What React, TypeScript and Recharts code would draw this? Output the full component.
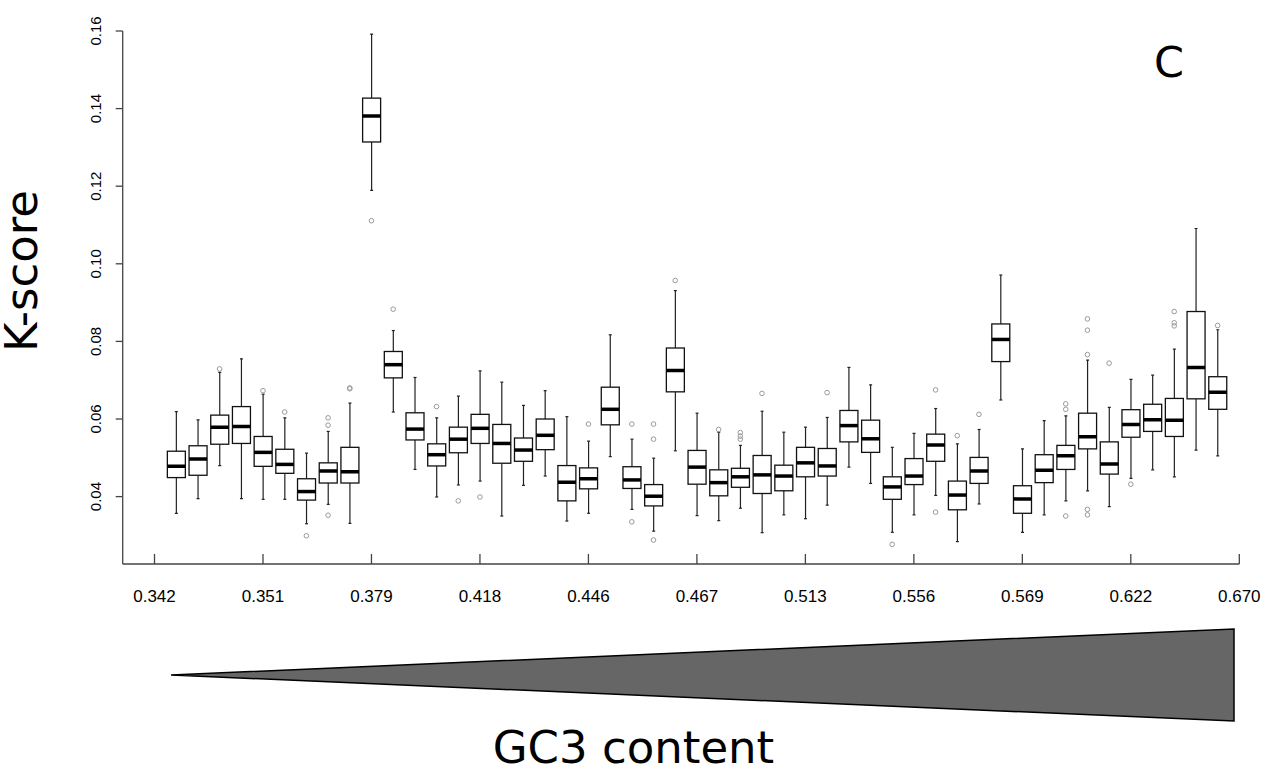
import React from 'react';
import { ComposedChart, Bar, Scatter, XAxis, YAxis } from 'recharts';

// Box positions (1..49) along GC3-ordered axis
const positions = [
  1, 2, 3, 4, 5, 6, 7, 8, 9, 10, 11, 12, 13, 14, 15, 16, 17, 18, 19, 20, 21, 22, 23, 24, 25,
  26, 27, 28, 29, 30, 31, 32, 33, 34, 35, 36, 37, 38, 39, 40, 41, 42, 43, 44, 45, 46, 47, 48, 49,
];
const whiskerLow = [
  0.0357, 0.0395, 0.048, 0.0395, 0.0393, 0.0393, 0.033, 0.038, 0.0331, 0.1189, 0.0618, 0.047, 0.0399,
  0.043, 0.044, 0.035, 0.0429, 0.0453, 0.0337, 0.0357, 0.0503, 0.0367, 0.0311, 0.0518, 0.0351, 0.0338,
  0.037, 0.0307, 0.0353, 0.0343, 0.0378, 0.0476, 0.0434, 0.0308, 0.0353, 0.0403, 0.0284, 0.0381, 0.0649,
  0.0308, 0.0353, 0.0389, 0.0415, 0.0374, 0.0447, 0.0469, 0.0451, 0.052, 0.0505,
];
const quartile1 = [
  0.0449, 0.0455, 0.0535, 0.0537, 0.0478, 0.046, 0.0391, 0.0435, 0.0435, 0.1314, 0.0706, 0.0546, 0.0479,
  0.0513, 0.0537, 0.0486, 0.0491, 0.0521, 0.0389, 0.042, 0.0585, 0.0421, 0.0376, 0.067, 0.0432, 0.0402,
  0.0424, 0.0408, 0.0415, 0.0451, 0.0453, 0.0541, 0.0514, 0.0393, 0.0431, 0.0491, 0.0366, 0.0434, 0.0748,
  0.0357, 0.0436, 0.047, 0.0523, 0.0458, 0.0553, 0.0568, 0.0555, 0.0652, 0.0625,
];
const medians = [
  0.0478, 0.0497, 0.0579, 0.0581, 0.0514, 0.0483, 0.0413, 0.0466, 0.0464, 0.1381, 0.074, 0.0574, 0.0508,
  0.0548, 0.0576, 0.0537, 0.052, 0.0558, 0.0437, 0.0446, 0.0625, 0.0443, 0.0401, 0.0725, 0.0476, 0.0436,
  0.0451, 0.0456, 0.0453, 0.0487, 0.0479, 0.0583, 0.0549, 0.0425, 0.0453, 0.0533, 0.0404, 0.0466, 0.0805,
  0.0394, 0.0468, 0.0505, 0.0554, 0.0484, 0.0586, 0.0598, 0.0597, 0.0733, 0.0669,
];
const quartile3 = [
  0.0517, 0.0531, 0.061, 0.0632, 0.0555, 0.0522, 0.0446, 0.0487, 0.0527, 0.1427, 0.0774, 0.0616, 0.0536,
  0.0579, 0.0612, 0.0586, 0.0551, 0.06, 0.048, 0.0474, 0.0682, 0.0477, 0.0431, 0.0783, 0.0519, 0.0469,
  0.0473, 0.0506, 0.0481, 0.0527, 0.0524, 0.0622, 0.0597, 0.0451, 0.0498, 0.0561, 0.044, 0.0501, 0.0845,
  0.0428, 0.0508, 0.0532, 0.0615, 0.0541, 0.0624, 0.0638, 0.0653, 0.0877, 0.0709,
];
const whiskerHigh = [
  0.0619, 0.0598, 0.072, 0.0755, 0.0664, 0.0603, 0.0512, 0.0568, 0.0641, 0.1592, 0.0828, 0.0707, 0.0603,
  0.0659, 0.0724, 0.0695, 0.0635, 0.0673, 0.0606, 0.0543, 0.0817, 0.0548, 0.0499, 0.0931, 0.0615, 0.0566,
  0.0532, 0.062, 0.0566, 0.0579, 0.0604, 0.0733, 0.0688, 0.0527, 0.0563, 0.0627, 0.0536, 0.0573, 0.0971,
  0.0523, 0.0596, 0.0608, 0.0752, 0.063, 0.0702, 0.0713, 0.078, 0.1091, 0.083,
];

// Outliers
const outlierPos = [
  3, 5, 6, 7, 8, 8, 8, 9, 9, 10, 11, 13, 14, 15, 20, 22, 22, 23, 23, 23, 24, 26, 27, 27, 27, 28, 31,
  34, 36, 36, 37, 38, 42, 42, 42, 43, 43, 43, 43, 43, 44, 45, 47, 47, 47, 49,
];
const outlierVal = [
  0.0729, 0.0673, 0.0618, 0.0299, 0.0603, 0.0584, 0.0352, 0.0678, 0.068, 0.1111, 0.0883, 0.0632, 0.0389,
  0.0399, 0.0587, 0.0587, 0.0335, 0.0587, 0.0548, 0.0288, 0.0957, 0.0573, 0.0565, 0.0556, 0.0548, 0.0666,
  0.0668, 0.0277, 0.0675, 0.036, 0.0557, 0.0612, 0.0639, 0.0625, 0.035, 0.0858, 0.0829, 0.0766, 0.0367,
  0.0353, 0.0744, 0.0432, 0.0877, 0.0848, 0.084, 0.0841,
];

const xTickPositions = [0, 5, 10, 15, 20, 25, 30, 35, 40, 45, 50];
const xTickLabels = ['0.342', '0.351', '0.379', '0.418', '0.446', '0.467', '0.513', '0.556', '0.569', '0.622', '0.670'];
const yTicks = [0.04, 0.06, 0.08, 0.1, 0.12, 0.14, 0.16];

const boxData = positions.map((p, i) => ({
  x: p,
  range: [whiskerLow[i], whiskerHigh[i]],
  lo: whiskerLow[i],
  q1: quartile1[i],
  med: medians[i],
  q3: quartile3[i],
  hi: whiskerHigh[i],
}));
const outlierData = outlierPos.map((p, i) => ({ x: p, y: outlierVal[i] }));

const AXIS_COLOR = '#444';
const SANS = "'Liberation Sans', Arial, Helvetica, sans-serif";
const DEJAVU = "'DejaVu Sans', sans-serif";

const BoxShape = (props: any) => {
  const { x, y, width, height, payload } = props;
  if (!payload || height == null) return null;
  const { lo, q1, med, q3, hi } = payload;
  const ppu = height / (hi - lo);
  const py = (v: number) => y + (hi - v) * ppu;
  const cx = x + width / 2;
  const bw = 18;
  const left = cx - bw / 2;
  return (
    <g>
      <line x1={cx} x2={cx} y1={py(hi)} y2={py(q3)} stroke="#222" strokeWidth={1.2} />
      <line x1={cx} x2={cx} y1={py(q1)} y2={py(lo)} stroke="#222" strokeWidth={1.2} />
      <line x1={cx - 1.5} x2={cx + 1.5} y1={py(hi)} y2={py(hi)} stroke="#222" strokeWidth={1.2} />
      <line x1={cx - 1.5} x2={cx + 1.5} y1={py(lo)} y2={py(lo)} stroke="#222" strokeWidth={1.2} />
      <rect x={left} y={py(q3)} width={bw} height={py(q1) - py(q3)} fill="#fff" stroke="#111" strokeWidth={1.3} />
      <line x1={left} x2={left + bw} y1={py(med)} y2={py(med)} stroke="#000" strokeWidth={3.5} />
    </g>
  );
};

const OutlierShape = (props: any) => {
  const { cx, cy } = props;
  if (cx == null || cy == null) return null;
  return <circle cx={cx} cy={cy} r={2.3} fill="none" stroke="#9a9a9a" strokeWidth={1} />;
};

const XTick = (props: any) => {
  const { x, y, payload } = props;
  const idx = xTickPositions.indexOf(payload.value);
  return (
    <g>
      <line x1={x} x2={x} y1={y - 10} y2={y} stroke={AXIS_COLOR} strokeWidth={1.3} />
      <text x={x} y={y + 38} textAnchor="middle" fontFamily={SANS} fontSize={17} fill="#000">
        {idx >= 0 ? xTickLabels[idx] : ''}
      </text>
    </g>
  );
};

const YTick = (props: any) => {
  const { x, y, payload } = props;
  return (
    <text
      x={x}
      y={y}
      transform={`rotate(-90, ${x}, ${y})`}
      textAnchor="middle"
      fontFamily={SANS}
      fontSize={15}
      fill="#000"
    >
      {Number(payload.value).toFixed(2)}
    </text>
  );
};

export default function App() {
  return (
    <div style={{ position: 'absolute', left: 0, top: 0, width: 1265, height: 764, background: '#fff' }}>
      <ComposedChart
        width={1265}
        height={764}
        data={boxData}
        margin={{ top: 31, right: 25.7, left: 0, bottom: 160 }}
      >
        <XAxis
          type="number"
          dataKey="x"
          domain={[-1.466, 50]}
          ticks={xTickPositions}
          interval={0}
          allowDataOverflow
          tickLine={false}
          tickSize={0}
          tickMargin={0}
          height={40}
          axisLine={{ stroke: AXIS_COLOR, strokeWidth: 1.3 }}
          tick={<XTick />}
        />
        <YAxis
          type="number"
          domain={[0.02263, 0.16]}
          ticks={yTicks}
          interval={0}
          allowDataOverflow
          width={122.7}
          tickSize={7}
          tickMargin={15}
          tickLine={{ stroke: AXIS_COLOR, strokeWidth: 1.3 }}
          axisLine={{ stroke: AXIS_COLOR, strokeWidth: 1.3 }}
          tick={<YTick />}
        />
        <Bar dataKey="range" barSize={18} shape={<BoxShape />} isAnimationActive={false} />
        <Scatter data={outlierData} dataKey="y" shape={<OutlierShape />} isAnimationActive={false} />
      </ComposedChart>
      <svg
        width={1265}
        height={764}
        style={{ position: 'absolute', left: 0, top: 0, pointerEvents: 'none' }}
      >
        <polygon points="171,675 1234,629 1234,721" fill="#666666" stroke="#000" strokeWidth={1.5} strokeLinejoin="miter" />
        <text x={1169} y={76.5} textAnchor="middle" fontFamily={DEJAVU} fontSize={43} fill="#000">
          C
        </text>
        <text x={633.5} y={763} textAnchor="middle" fontFamily={DEJAVU} fontSize={45} fill="#000">
          GC3 content
        </text>
        <text x={37} y={271} transform="rotate(-90, 37, 271)" textAnchor="middle" fontFamily={DEJAVU} fontSize={45} fill="#000">
          K-score
        </text>
      </svg>
    </div>
  );
}
